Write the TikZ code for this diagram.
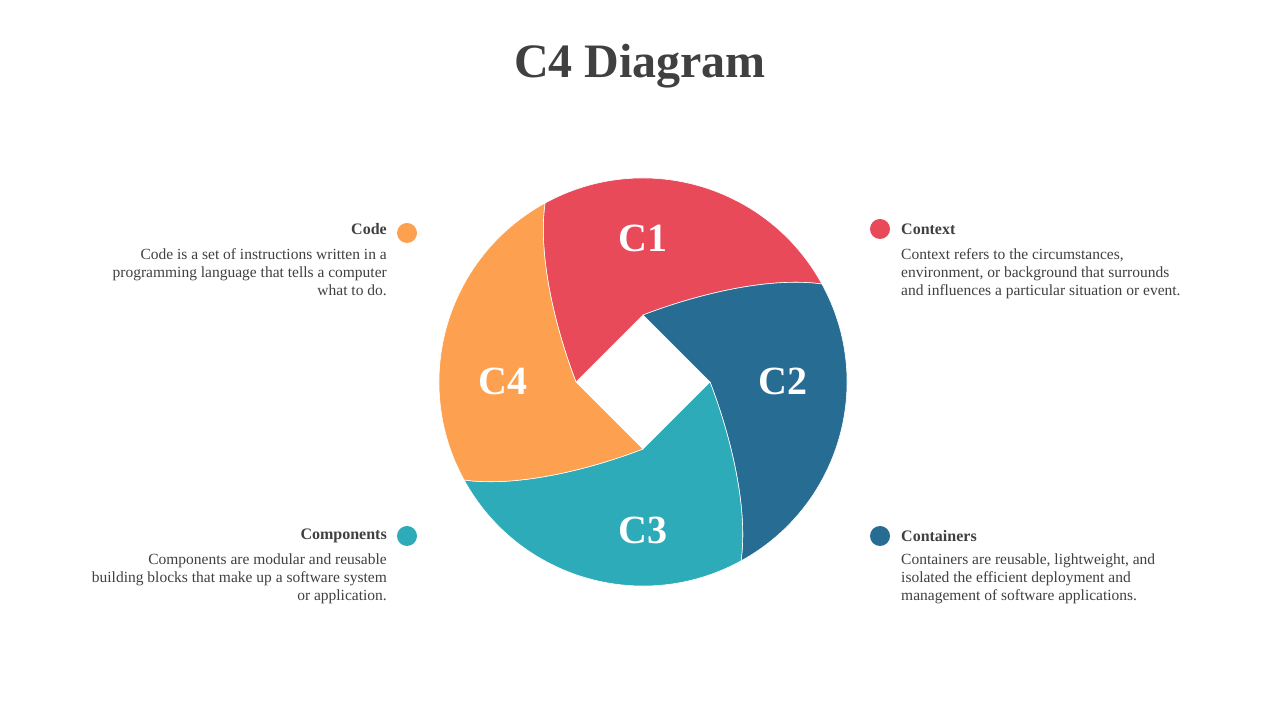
\documentclass[tikz,border=0pt]{standalone}
\usepackage{fontspec}
\setmainfont{Liberation Serif}
\definecolor{cred}{HTML}{E84A5A}
\definecolor{cblue}{HTML}{276C93}
\definecolor{cteal}{HTML}{2DABB9}
\definecolor{corange}{HTML}{FDA050}
\definecolor{ctext}{HTML}{404040}
\begin{document}
\begin{tikzpicture}[x=1pt,y=1pt,
  blade/.style={draw=white,line width=0.6pt,line join=round},
  lab/.style={text=white,font=\fontsize{40}{40}\selectfont\bfseries},
  head/.style={text=ctext,font=\fontsize{16}{18}\selectfont\bfseries},
  body/.style={text=ctext,font=\fontsize{15.5}{18}\selectfont,inner sep=0pt},
  dot/.style={circle,inner sep=0pt,minimum size=20pt}]
\useasboundingbox (0,0) rectangle (1280,720);
\node[text=ctext,font=\fontsize{48}{50}\selectfont\bfseries] (title) at (640,654) {C4 Diagram};
\coordinate (c) at (643,338);
\foreach \k/\col in {0/cred,1/cblue,2/cteal,3/corange}{
  \begin{scope}[shift={(c)},rotate=-90*\k]
  \fill[\col,blade] (118.7:204) arc[start angle=118.7,end angle=28.7,radius=204]
    .. controls (130,105) and (60,90) .. (0,67) -- (-67,0)
    .. controls (-90,60) and (-105,130) .. (-98,179) -- cycle;
  \end{scope}}
\node[lab] (l1) at (643,482) {C1};
\node[lab] (l2) at (783,339) {C2};
\node[lab] (l3) at (643,190) {C3};
\node[lab] (l4) at (503,339) {C4};
% Context
\node[dot,fill=cred] (d1) at (880,491) {};
\node[head,anchor=west,inner sep=0pt] (h1) at (901,491) {Context};
\node[body,anchor=north west,align=left] (b1) at (901,472) {Context refers to the circumstances,\\environment, or background that surrounds\\and influences a particular situation or event.};
% Containers
\node[dot,fill=cblue] (d2) at (880,184) {};
\node[head,anchor=west,inner sep=0pt] (h2) at (901,184) {Containers};
\node[body,anchor=north west,align=left] (b2) at (901,166) {Containers are reusable, lightweight, and\\isolated the efficient deployment and\\management of software applications.};
% Code
\node[dot,fill=corange] (d3) at (407,487) {};
\node[head,anchor=east,inner sep=0pt] (h3) at (387,491) {Code};
\node[body,anchor=north east,align=right] (b3) at (387,472) {Code is a set of instructions written in a\\programming language that tells a computer\\what to do.};
% Components
\node[dot,fill=cteal] (d4) at (407,184) {};
\node[head,anchor=east,inner sep=0pt] (h4) at (387,184) {Components};
\node[body,anchor=north east,align=right] (b4) at (387,166) {Components are modular and reusable\\building blocks that make up a software system\\or application.};
\end{tikzpicture}
\end{document}
